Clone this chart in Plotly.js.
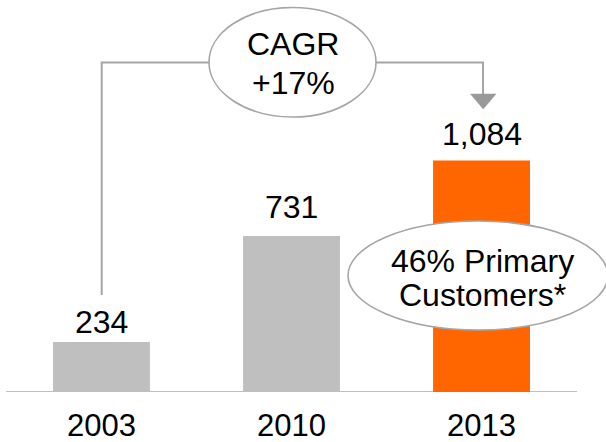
<!DOCTYPE html>
<html>
<head>
<meta charset="utf-8">
<script src="https://cdn.plot.ly/plotly-3.0.1.min.js"></script>
<style>html,body{margin:0;padding:0;background:#fff;}#chart{width:606px;height:442px;}</style>
</head>
<body>
<div id="chart"></div>
<script>
const years = ["2003", "2010", "2013"];
const customers = [234, 731, 1084];
const valueLabels = ["234", "731", "1,084"];
const barColors = ["#BFBFBF", "#BFBFBF", "#FF6600"];
const cagrLines = ["CAGR", "+17%"];
const noteLines = ["46% Primary", "Customers*"];

const W = 606, H = 442, PLOT_BOTTOM = 392;
const xp = px => px / W;                       // pixel -> paper x
const yp = py => (PLOT_BOTTOM - py) / PLOT_BOTTOM; // pixel -> paper y
const FONT = "Liberation Sans, Arial, sans-serif";
const FS = 32;
const LINE = "#A6A6A6";

const idx = years.map((_, i) => i);

const trace = {
  type: "bar",
  x: idx,
  y: customers,
  width: 0.51,
  marker: { color: barColors, line: { width: 0 } },
  hoverinfo: "skip"
};

const annotations = [];
const labelShift = [0, 9, 7];
customers.forEach((v, i) => {
  annotations.push({
    x: i, y: v, xref: "x", yref: "y",
    text: valueLabels[i], showarrow: false,
    yanchor: "bottom", yshift: labelShift[i],
    font: { family: FONT, size: FS, color: "#000" }
  });
});
// CAGR bubble text
[[44, cagrLines[0]], [83, cagrLines[1]]].forEach(([py, t]) => {
  annotations.push({ x: xp(293), y: yp(py), xref: "paper", yref: "paper",
    text: t, showarrow: false, xanchor: "center", yanchor: "middle",
    font: { family: FONT, size: FS, color: "#000" } });
});
// Primary customers bubble text
[[261, noteLines[0]], [295, noteLines[1]]].forEach(([py, t]) => {
  annotations.push({ x: xp(482), y: yp(py), xref: "paper", yref: "paper",
    text: t, showarrow: false, xanchor: "center", yanchor: "middle",
    font: { family: FONT, size: FS, color: "#000" } });
});

const shapes = [
  // baseline
  { type: "line", xref: "paper", yref: "y", x0: xp(6), x1: xp(577), y0: 0, y1: 0,
    line: { color: "#BFBFBF", width: 2 }, layer: "below" },
  // left connector (from 2003 bar up to CAGR bubble)
  { type: "path", xref: "paper", yref: "paper",
    path: `M ${xp(101.7)} ${yp(295)} L ${xp(101.7)} ${yp(62.5)} L ${xp(210)} ${yp(62.5)}`,
    line: { color: LINE, width: 2 } },
  // right connector to arrow
  { type: "path", xref: "paper", yref: "paper",
    path: `M ${xp(376)} ${yp(62.5)} L ${xp(483)} ${yp(62.5)} L ${xp(483)} ${yp(96)}`,
    line: { color: LINE, width: 2 } },
  // arrowhead
  { type: "path", xref: "paper", yref: "paper",
    path: `M ${xp(470.5)} ${yp(94)} L ${xp(496)} ${yp(94)} L ${xp(483.2)} ${yp(109)} Z`,
    fillcolor: "#999999", line: { color: "#999999", width: 0.5 } },
  // CAGR ellipse
  { type: "circle", xref: "paper", yref: "paper",
    x0: xp(209), x1: xp(376), y0: yp(117), y1: yp(7.5),
    fillcolor: "#FFFFFF", line: { color: LINE, width: 1.6 } },
  // primary customers ellipse
  { type: "circle", xref: "paper", yref: "paper",
    x0: xp(348), x1: xp(608), y0: yp(330), y1: yp(221),
    fillcolor: "#FFFFFF", line: { color: LINE, width: 1.6 } }
];

const layout = {
  width: W, height: H,
  margin: { l: 0, r: 0, t: 0, b: H - PLOT_BOTTOM, pad: 0 },
  paper_bgcolor: "#FFFFFF", plot_bgcolor: "#FFFFFF",
  showlegend: false,
  xaxis: {
    type: "linear", range: [-0.534, 2.655], fixedrange: true,
    tickmode: "array", tickvals: idx, ticktext: years,
    ticks: "", showgrid: false, zeroline: false, showline: false,
    ticklabelstandoff: 12,
    tickfont: { family: FONT, size: 31, color: "#000" }
  },
  yaxis: {
    range: [0, 1836], visible: false, fixedrange: true,
    showgrid: false, zeroline: false
  },
  shapes: shapes,
  annotations: annotations
};

Plotly.newPlot("chart", [trace], layout, { staticPlot: true, displayModeBar: false });
</script>
</body>
</html>
